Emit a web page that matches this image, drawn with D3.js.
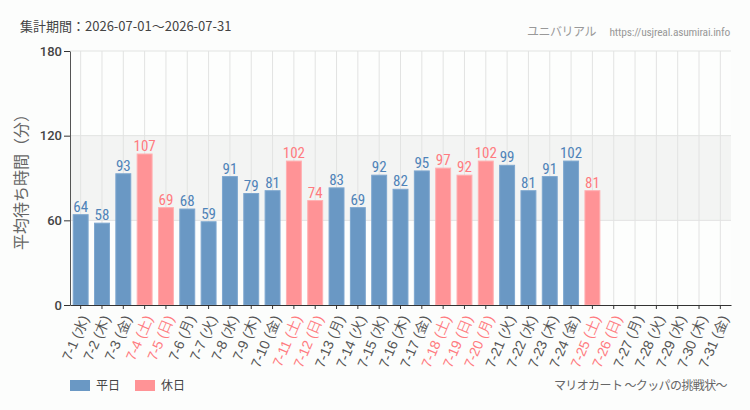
<!DOCTYPE html>
<html>
<head>
<meta charset="utf-8">
<script src="https://cdn.jsdelivr.net/npm/d3@7"></script>
<style>
body { margin: 0; background: #fcfdfc; }
svg { display: block; font-family: "Noto Sans CJK JP", "Noto Sans", sans-serif; }
.num { font-family: "Liberation Sans Narrow", "Roboto", sans-serif; font-stretch: condensed; }
</style>
</head>
<body>
<div id="container"></div>
<script>
var width = 750,
    height = 410,
    margin = { left: 70, top: 51, right: 19, bottom: 105 },
    g_width = width - margin.left - margin.right,
    g_height = height - margin.top - margin.bottom;

// data
var days = ['7-1','7-2','7-3','7-4','7-5','7-6','7-7','7-8','7-9','7-10','7-11','7-12','7-13','7-14','7-15','7-16',
            '7-17','7-18','7-19','7-20','7-21','7-22','7-23','7-24','7-25','7-26','7-27','7-28','7-29','7-30','7-31'];
var weekdays = ['水','木','金','土','日','月','火','水','木','金','土','日','月','火','水','木',
                '金','土','日','月','火','水','木','金','土','日','月','火','水','木','金'];
var holiday = [0,0,0,1,1,0,0,0,0,0,1,1,0,0,0,0,0,1,1,1,0,0,0,0,1,1,0,0,0,0,0];
var waits = [64,58,93,107,69,68,59,91,79,81,102,74,83,69,92,82,95,97,92,102,99,81,91,102,81,
             null,null,null,null,null,null];
var y_ticks = [0, 60, 120, 180];

var col_week = '#6a98c4', col_hol = '#ff9396';
var txt_week = '#4f83b8', txt_hol = '#ff7b80';

var svg = d3.select('#container')
    .append('svg')
    .attr('width', width)
    .attr('height', height)
svg.append('rect').attr('width', width).attr('height', height).attr('fill', '#fcfdfc')

var g = svg.append('g')
    .attr('transform', 'translate(' + margin.left + ',' + margin.top + ')')

var scale_x = d3.scaleBand()
    .domain(days)
    .range([0, g_width])
    .paddingInner(0.3)
    .paddingOuter(0.15)
var scale_y = d3.scaleLinear()
    .domain([0, 180])
    .range([g_height, 0])

// background + shaded band 60-120
g.append('rect')
    .attr('width', g_width).attr('height', g_height)
    .attr('fill', '#fdfefd')
g.append('rect')
    .attr('y', scale_y(120))
    .attr('width', g_width)
    .attr('height', scale_y(60) - scale_y(120))
    .attr('fill', '#f3f4f3')

// grid
g.selectAll('.vgrid')
    .data(days)
    .enter().append('line')
    .attr('x1', function (d) { return scale_x(d) + scale_x.bandwidth() / 2; })
    .attr('x2', function (d) { return scale_x(d) + scale_x.bandwidth() / 2; })
    .attr('y1', 0).attr('y2', g_height)
    .attr('stroke', '#e2e3e2')
g.selectAll('.hgrid')
    .data(y_ticks.slice(1))
    .enter().append('line')
    .attr('x1', 0).attr('x2', g_width)
    .attr('y1', function (d) { return scale_y(d); })
    .attr('y2', function (d) { return scale_y(d); })
    .attr('stroke', '#e2e3e2')

// bars
var rows = days.map(function (d, i) { return { day: d, v: waits[i], hol: holiday[i] }; })
    .filter(function (r) { return r.v != null; });
g.selectAll('.bar')
    .data(rows)
    .enter().append('rect')
    .attr('x', function (d) { return scale_x(d.day); })
    .attr('y', function (d) { return scale_y(d.v); })
    .attr('width', scale_x.bandwidth())
    .attr('height', function (d) { return g_height - scale_y(d.v); })
    .attr('fill', function (d) { return d.hol ? col_hol : col_week; })
    .attr('stroke', function (d) { return d.hol ? '#ffb0b2' : '#7ea7cf'; })
    .attr('stroke-width', 1)
g.selectAll('.lbl')
    .data(rows)
    .enter().append('text')
    .attr('class', 'num')
    .attr('x', function (d) { return scale_x(d.day) + scale_x.bandwidth() / 2; })
    .attr('y', function (d) { return scale_y(d.v) - 3; })
    .attr('text-anchor', 'middle')
    .attr('font-size', 15)
    .attr('fill', function (d) { return d.hol ? txt_hol : txt_week; })
    .text(function (d) { return d.v; })

// y axis
var y_axis = d3.axisLeft(scale_y).tickValues(y_ticks).tickSize(6).tickSizeOuter(0);
var ya = g.append('g').call(y_axis)
ya.select('.domain').attr('stroke', '#555')
ya.selectAll('.tick line').attr('stroke', '#333')
ya.selectAll('.tick text')
    .attr('font-family', 'Roboto, sans-serif')
    .attr('font-size', 13)
    .attr('font-weight', 500)
    .attr('fill', '#444')
    .attr('x', -8)

// x axis
var x_axis = d3.axisBottom(scale_x).tickSize(4).tickSizeOuter(0)
    .tickFormat(function (d, i) { return d + ' (' + weekdays[i] + ')'; });
var xa = g.append('g')
    .attr('transform', 'translate(0,' + g_height + ')')
    .call(x_axis)
xa.select('.domain').attr('stroke', '#333')
xa.selectAll('.tick line').attr('stroke', '#333')
xa.selectAll('.tick text')
    .attr('font-size', 14)
    .attr('fill', function (d, i) { return holiday[i] ? txt_hol : '#555'; })
    .attr('text-anchor', 'end')
    .attr('dy', '0.35em')
    .attr('transform', 'translate(4,11) rotate(-67)')
    .attr('x', 0).attr('y', 0)

// y title
svg.append('text')
    .attr('transform', 'translate(27,' + (margin.top + g_height / 2) + ') rotate(-90)')
    .attr('text-anchor', 'middle')
    .attr('font-size', 16)
    .attr('fill', '#666')
    .text('平均待ち時間（分）')

// header
svg.append('text')
    .attr('x', 20).attr('y', 31)
    .attr('font-size', 13)
    .attr('fill', '#444')
    .text('集計期間：2026-07-01～2026-07-31')
svg.append('text')
    .attr('x', 596).attr('y', 36)
    .attr('text-anchor', 'end')
    .attr('font-size', 12)
    .attr('fill', '#999')
    .attr('letter-spacing', -0.5)
    .text('ユニバリアル')
svg.append('text')
    .attr('class', 'num')
    .attr('x', 730).attr('y', 36)
    .attr('text-anchor', 'end')
    .attr('font-size', 11.5)
    .attr('fill', '#999')
    .attr('letter-spacing', -0.2)
    .text('https://usjreal.asumirai.info')

// legend
var legend = svg.append('g').attr('transform', 'translate(70,380)')
var items = [{ name: '平日', c: col_week }, { name: '休日', c: col_hol }];
var li = legend.selectAll('g').data(items).enter().append('g')
    .attr('transform', function (d, i) { return 'translate(' + (i * 65) + ',0)'; })
li.append('rect').attr('width', 20).attr('height', 11).attr('fill', function (d) { return d.c; })
li.append('text').attr('x', 26).attr('y', 10).attr('font-size', 12).attr('fill', '#444')
    .text(function (d) { return d.name; })

svg.append('text')
    .attr('x', 727).attr('y', 390)
    .attr('text-anchor', 'end')
    .attr('font-size', 12)
    .attr('fill', '#666')
    .attr('letter-spacing', -0.6)
    .text('マリオカート ～クッパの挑戦状～')
</script>
</body>
</html>
